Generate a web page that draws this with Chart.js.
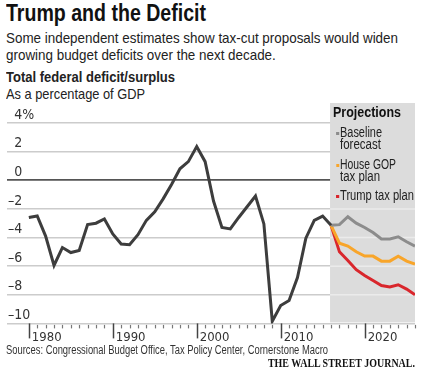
<!DOCTYPE html>
<html>
<head>
<meta charset="utf-8">
<script src="https://cdn.jsdelivr.net/npm/chart.js@4.4.0/dist/chart.umd.min.js"></script>
<style>
  html, body { margin: 0; padding: 0; background: #fff; }
  body { width: 422px; height: 372px; position: relative; overflow: hidden; color: #222;
         font-family: "Liberation Sans", Arial, sans-serif; }
  .t { position: absolute; left: 6px; white-space: nowrap; line-height: 1; transform-origin: 0 0; }
  #title { top: 2px; font-size: 23px; font-weight: bold; color: #111; }
  #sub { top: 28.6px; font-size: 15px; line-height: 17px; }
  #sub span { display: block; }
  #head { top: 70.4px; font-size: 14.5px; font-weight: bold; }
  #unit { top: 87px; font-size: 14.5px; }
  #source { top: 344.4px; font-size: 12.5px; color: #333; }
  #wsj { top: 357px; left: auto; right: 7px; font-size: 12px; font-weight: bold; transform-origin: 100% 0;
         font-family: "Liberation Serif", "DejaVu Serif", serif; color: #111; }
  #chart { position: absolute; left: 0; top: 100px; }
  .lg { position: absolute; left: 340px; font-size: 14px; line-height: 1; white-space: nowrap; color: #222; transform-origin: 0 0; }
  .lg i { position: absolute; left: -5px; top: 7px; width: 4px; height: 3px; }
  #proj { left: 333px; top: 105px; font-weight: bold; font-size: 14.5px; color: #111; }
</style>
</head>
<body>
<div class="t" id="title" data-w="200">Trump and the Deficit</div>
<div class="t" id="sub" data-w="392"><span>Some independent estimates show tax-cut proposals would widen</span><span>growing budget deficits over the next decade.</span></div>
<div class="t" id="head" data-w="169">Total federal deficit/surplus</div>
<div class="t" id="unit" data-w="139">As a percentage of GDP</div>

<canvas id="chart" width="422" height="252"></canvas>

<div class="lg" id="proj" data-w="68">Projections</div>
<div class="lg" style="top:124.8px" data-w="42"><i style="background:#8c8c8c"></i>Baseline</div>
<div class="lg" style="top:137.2px" data-w="41">forecast</div>
<div class="lg" style="top:156.5px" data-w="56"><i style="background:#f8a52a"></i>House GOP</div>
<div class="lg" style="top:168.7px" data-w="40">tax plan</div>
<div class="lg" style="top:188.2px" data-w="74"><i style="background:#d9262c"></i>Trump tax plan</div>

<div class="t" id="source" data-w="322">Sources: Congressional Budget Office, Tax Policy Center, Cornerstone Macro</div>
<div class="t" id="wsj" data-w="147">THE WALL STREET JOURNAL.</div>

<script>
// Actual deficit/surplus, % of GDP
const historyYears = [1980, 1981, 1982, 1983, 1984, 1985, 1986, 1987, 1988, 1989,
                      1990, 1991, 1992, 1993, 1994, 1995, 1996, 1997, 1998, 1999,
                      2000, 2001, 2002, 2003, 2004, 2005, 2006, 2007, 2008, 2009,
                      2010, 2011, 2012, 2013, 2014, 2015, 2016];
const historyDeficit = [-2.6, -2.5, -3.9, -5.95, -4.7, -5.05, -4.9, -3.1, -3.0, -2.7,
                        -3.75, -4.45, -4.5, -3.8, -2.8, -2.2, -1.3, -0.3, 0.8, 1.3,
                        2.35, 1.3, -1.45, -3.3, -3.4, -2.6, -1.85, -1.1, -3.05, -9.85,
                        -8.75, -8.4, -6.8, -4.05, -2.8, -2.5, -3.15];

// Projections
const projectionYears = [2016, 2017, 2018, 2019, 2020, 2021, 2022, 2023, 2024, 2025, 2026];
const baselineForecast = [-3.15, -3.1, -2.55, -3.0, -3.3, -3.65, -4.1, -4.1, -3.95, -4.3, -4.6];
const houseGopPlan = [-3.15, -4.4, -4.6, -5.0, -5.3, -5.3, -5.65, -5.65, -5.3, -5.65, -5.85];
const trumpPlan = [-3.15, -5.0, -5.6, -6.25, -6.65, -7.0, -7.35, -7.45, -7.3, -7.6, -8.0];

// Axis ticks
const yTicks = [4, 2, 0, -2, -4, -6, -8, -10];
const yTickLabels = ['4%', '2', '0', '\u20132', '\u20134', '\u20136', '\u20138', '\u201310'];
const xTickLabels = [1980, 1990, 2000, 2010, 2020];

Chart.defaults.font.family = '"DejaVu Sans Condensed", "Liberation Sans", sans-serif';
Chart.defaults.color = '#333';

// squeeze html text to the narrow widths of the original typeface
document.querySelectorAll('[data-w]').forEach(el => {
    const target = parseFloat(el.dataset.w);
    const first = el.querySelector('span') || el;
    const w = first.getBoundingClientRect().width;
    if (w > 0) el.style.transform = 'scaleX(' + (target / w) + ')';
});

function toPoints(xs, ys) {
    return xs.map((x, i) => ({ x: x, y: ys[i] }));
}

// Grey projections panel, yearly tick marks
const decorPlugin = {
    id: 'decor',
    beforeDatasetsDraw(chart) {
        const { ctx, chartArea, scales } = chart;
        const x0 = scales.x.getPixelForValue(projectionYears[0]) - 1;
        const yBottom = scales.y.getPixelForValue(-10) - 1;
        ctx.save();
        ctx.fillStyle = '#dcdcdc';
        ctx.fillRect(x0, chartArea.top - 20, chartArea.right - x0, yBottom - chartArea.top + 20);
        // lighter gridlines inside the panel
        ctx.strokeStyle = '#ebebeb';
        ctx.lineWidth = 1.5;
        [-2, -4, -6, -8].forEach(v => {
            const py = scales.y.getPixelForValue(v);
            ctx.beginPath();
            ctx.moveTo(x0, py);
            ctx.lineTo(chartArea.right, py);
            ctx.stroke();
        });
        ctx.restore();
    },
    afterDraw(chart) {
        const { ctx, scales } = chart;
        const base = scales.y.getPixelForValue(-10);
        ctx.save();
        scales.x.ticks.forEach(t => {
            const px = Math.round(scales.x.getPixelForValue(t.value)) + 0.5;
            ctx.beginPath();
            if (xTickLabels.includes(t.value)) {
                ctx.strokeStyle = '#444';
                ctx.lineWidth = 1.5;
                ctx.moveTo(px, base);
                ctx.lineTo(px, base + 15);
            } else {
                ctx.strokeStyle = '#777';
                ctx.lineWidth = 1.2;
                ctx.moveTo(px, base + 1.5);
                ctx.lineTo(px, base + 5);
            }
            ctx.stroke();
        });
        ctx.restore();
    }
};

const lineStyle = { pointRadius: 0, borderWidth: 3, tension: 0, fill: false, borderJoinStyle: 'miter' };

new Chart(document.getElementById('chart'), {
    type: 'line',
    data: {
        datasets: [
            Object.assign({ label: 'Actual', data: toPoints(historyYears, historyDeficit), borderColor: '#3d3d3d' }, lineStyle),
            Object.assign({ label: 'Baseline forecast', data: toPoints(projectionYears, baselineForecast), borderColor: '#8c8c8c' }, lineStyle),
            Object.assign({ label: 'House GOP tax plan', data: toPoints(projectionYears, houseGopPlan), borderColor: '#f8a52a' }, lineStyle),
            Object.assign({ label: 'Trump tax plan', data: toPoints(projectionYears, trumpPlan), borderColor: '#d9262c' }, lineStyle)
        ]
    },
    options: {
        responsive: false,
        animation: false,
        devicePixelRatio: 1,
        layout: { padding: { top: 23, left: 5, right: 7, bottom: 9 } },
        plugins: {
            legend: { display: false },
            tooltip: { enabled: false }
        },
        scales: {
            x: {
                type: 'linear',
                min: 1977.4,
                max: 2026,
                afterBuildTicks(scale) {
                    const ticks = [];
                    for (let yr = historyYears[0]; yr <= projectionYears[projectionYears.length - 1]; yr++) {
                        ticks.push({ value: yr });
                    }
                    scale.ticks = ticks;
                },
                grid: { display: false },
                border: { display: false },
                ticks: {
                    autoSkip: false,
                    maxRotation: 0,
                    align: 'start',
                    labelOffset: 3,
                    padding: -2,
                    font: { size: 13 },
                    color: '#333',
                    callback: v => xTickLabels.includes(v) ? String(v) : ''
                }
            },
            y: {
                min: -10,
                max: 4,
                afterBuildTicks(scale) {
                    scale.ticks = yTicks.map(v => ({ value: v }));
                },
                border: { display: false },
                grid: {
                    drawTicks: false,
                    color: ctx => ctx.tick && ctx.tick.value === 0 ? '#555' : '#cccccc',
                    lineWidth: ctx => ctx.tick && ctx.tick.value === 0 ? 1.8 : 1.5
                },
                ticks: {
                    mirror: true,
                    padding: 1,
                    labelOffset: -8,
                    font: { size: 14 },
                    color: '#333',
                    callback: v => {
                        const label = yTickLabels[yTicks.indexOf(v)];
                        return v < 0 ? label : '\u2002' + label;
                    }
                }
            }
        }
    },
    plugins: [decorPlugin]
});
</script>
</body>
</html>
